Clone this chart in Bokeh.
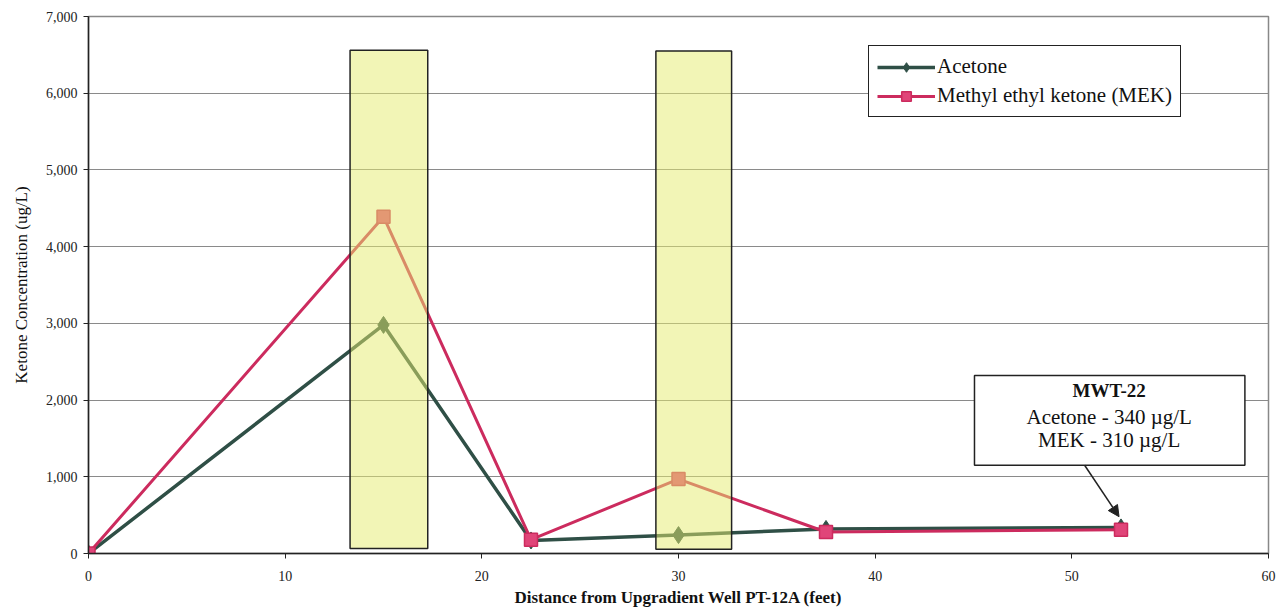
from bokeh.plotting import figure
from bokeh.models import (ColumnDataSource, FixedTicker, NumeralTickFormatter, Legend,
                          LegendItem, Label, Arrow, NormalHead, BoxAnnotation, Range1d)
from bokeh.embed import file_html
from bokeh.resources import INLINE

# Sampling distances from the upgradient well (feet)
distance_ft = [0, 15, 22.5, 30, 37.5, 52.5]
acetone_ugl = [0, 2980, 170, 240, 320, 340]
mek_ugl = [0, 4390, 180, 970, 280, 310]

# Highlighted zones (feet) and their vertical extent (ug/L)
zone_left = [13.3, 28.85]
zone_right = [17.25, 32.7]
zone_bottom = [65, 55]
zone_top = [6560, 6550]

y_ticks = [0, 1000, 2000, 3000, 4000, 5000, 6000, 7000]
x_ticks = [0, 10, 20, 30, 40, 50, 60]

# Callout for the furthest well
callout_title = "MWT-22"
callout_lines = ["Acetone - 340 \u00b5g/L", "MEK - 310 \u00b5g/L"]

SERIF = "Liberation Serif"
ACETONE_COLOR = "#2f4f46"
MEK_COLOR = "#cc2b5e"
MEK_FILL = "#e04579"

p = figure(width=1288, height=614, output_backend="svg", toolbar_location=None,
           x_range=Range1d(0, 60), y_range=Range1d(0, 7000),
           min_border_left=88, min_border_right=20, min_border_top=16, min_border_bottom=61)
p.background_fill_color = "white"
p.border_fill_color = "white"
p.outline_line_color = "#888888"
p.outline_line_width = 1.5

# Axes
for ax in (p.xaxis[0], p.yaxis[0]):
    ax.axis_line_color = "#222222"
    ax.axis_line_width = 1.5
    ax.major_tick_line_color = "#222222"
    ax.major_tick_out = 5
    ax.major_tick_in = 0
    ax.minor_tick_line_color = None
    ax.major_label_text_font = SERIF
    ax.major_label_text_font_size = "14px"
    ax.major_label_text_color = "#222222"
    ax.axis_label_text_font = SERIF
    ax.axis_label_text_font_style = "normal"
    ax.axis_label_text_color = "#111111"

p.xaxis.ticker = FixedTicker(ticks=x_ticks)
p.yaxis.ticker = FixedTicker(ticks=y_ticks)
p.yaxis.formatter = NumeralTickFormatter(format="0,0")
p.xaxis.axis_label = "Distance from Upgradient Well PT-12A (feet)"
p.xaxis.axis_label_text_font_style = "bold"
p.xaxis.axis_label_text_font_size = "17px"
p.xaxis.axis_label_standoff = 4
p.xaxis.major_label_standoff = 12
p.yaxis.axis_label = "Ketone Concentration (ug/L)"
p.yaxis.axis_label_text_font_size = "17px"
p.yaxis.axis_label_standoff = 12
p.yaxis.major_label_standoff = 6

p.xgrid.grid_line_color = None
p.ygrid.grid_line_color = "#8a8a8a"
p.ygrid.grid_line_width = 1.2

src = ColumnDataSource(dict(x=distance_ft, acetone=acetone_ugl, mek=mek_ugl))

ac_line = p.line("x", "acetone", source=src, line_color=ACETONE_COLOR, line_width=3.5)
ac_pts = p.scatter("x", "acetone", source=src, marker="diamond", size=17,
                   fill_color=ACETONE_COLOR, line_color=ACETONE_COLOR)
mek_line = p.line("x", "mek", source=src, line_color=MEK_COLOR, line_width=3)
mek_pts = p.scatter("x", "mek", source=src, marker="square", size=13,
                    fill_color=MEK_FILL, line_color=MEK_COLOR, line_width=1.5)

# Translucent highlight zones laid over the series
zones = ColumnDataSource(dict(left=zone_left, right=zone_right, bottom=zone_bottom, top=zone_top))
p.quad(left="left", right="right", bottom="bottom", top="top", source=zones,
       fill_color="#e6ec6e", fill_alpha=0.5, line_color="#222222", line_width=1.5)

legend = Legend(items=[
    LegendItem(label="Acetone", renderers=[ac_line, ac_pts]),
    LegendItem(label="Methyl ethyl ketone (MEK)", renderers=[mek_line, mek_pts]),
], location=(780, 436))
legend.label_text_font = SERIF
legend.label_text_font_size = "21px"
legend.label_text_color = "#111111"
legend.glyph_width = 58
legend.glyph_height = 24
legend.label_standoff = 2
legend.spacing = 4
legend.padding = 8
legend.margin = 0
legend.border_line_color = "#222222"
legend.border_line_alpha = 1.0
legend.border_line_width = 1.5
legend.background_fill_color = "white"
legend.background_fill_alpha = 1.0
p.add_layout(legend, "center")

# Callout box with text
callout = BoxAnnotation(left=45.05, right=58.8, bottom=1150, top=2320,
                        fill_color="white", fill_alpha=1.0,
                        line_color="#222222", line_alpha=1.0, line_width=1.5)
p.add_layout(callout)
p.add_layout(Label(x=51.9, y=2130, text=callout_title, text_align="center",
                   text_baseline="middle", text_font=SERIF, text_font_size="19px",
                   text_font_style="bold", text_color="#111111"))
for yy, txt in zip([1780, 1480], callout_lines):
    p.add_layout(Label(x=51.9, y=yy, text=txt, text_align="center",
                       text_baseline="middle", text_font=SERIF,
                       text_font_size="21px", text_color="#111111"))
p.add_layout(Arrow(x_start=50.65, y_start=1150, x_end=52.4, y_end=480,
                   line_color="#222222", line_width=1.5,
                   end=NormalHead(size=11, fill_color="#222222", line_color="#222222")))

open("out.html", "w").write(file_html(p, INLINE))
